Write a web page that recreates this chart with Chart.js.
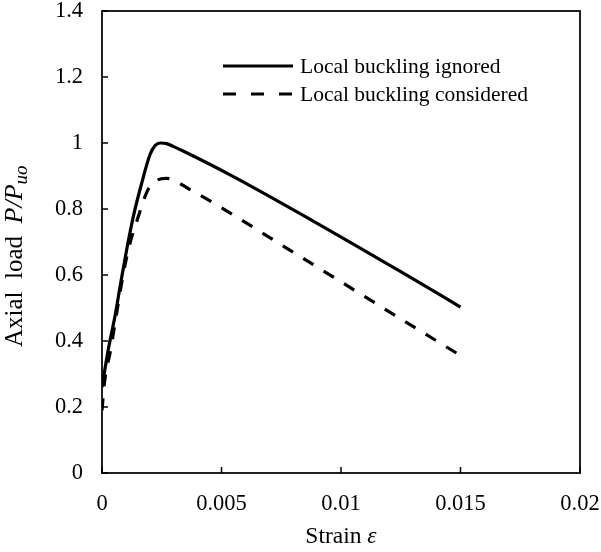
<!DOCTYPE html>
<html>
<head>
<meta charset="utf-8">
<script src="https://cdn.jsdelivr.net/npm/chart.js@4/dist/chart.umd.min.js"></script>
<style>
  html, body { margin: 0; padding: 0; background: #fff; }
  #wrap { width: 601px; height: 552px; }
</style>
</head>
<body>
<div id="wrap"><canvas id="c" width="601" height="552"></canvas></div>
<script>
// ---- data ----
const seriesLabels = ['Local buckling ignored', 'Local buckling considered'];
const ignoredStrain = [0, 0.00026, 0.00054, 0.00078, 0.00103, 0.00131, 0.00166, 0.00201, 0.00222, 0.00245, 0.0027, 0.003, 0.0035, 0.0054, 0.0088, 0.0125, 0.015];
const ignoredLoad   = [0.26, 0.373, 0.474, 0.575, 0.676, 0.777, 0.878, 0.965, 0.992, 1.0, 0.998, 0.989, 0.972, 0.902, 0.765, 0.61, 0.503];
const consideredStrain = [0, 0.0001, 0.00036, 0.00059, 0.00082, 0.0011, 0.00152, 0.0019, 0.00225, 0.0027, 0.0037, 0.0082, 0.0127, 0.015];
const consideredLoad   = [0.19, 0.272, 0.373, 0.474, 0.575, 0.676, 0.777, 0.855, 0.885, 0.893, 0.858, 0.66, 0.458, 0.356];
const xTicks = [0, 0.005, 0.01, 0.015, 0.02];
const yTicks = [0, 0.2, 0.4, 0.6, 0.8, 1, 1.2, 1.4];

const toPts = (xs, ys) => xs.map((x, i) => ({ x: x, y: ys[i] }));

const FONT = '"Liberation Serif", "Times New Roman", serif';

const framePlugin = {
  id: 'frame',
  afterDraw(chart) {
    const { ctx, chartArea: a, scales } = chart;
    ctx.save();
    ctx.strokeStyle = '#000';
    ctx.lineWidth = 1.75;
    ctx.strokeRect(a.left, a.top, a.right - a.left, a.bottom - a.top);
    ctx.lineWidth = 1.5;
    const tl = 6;
    ctx.beginPath();
    xTicks.forEach(v => {
      const px = scales.x.getPixelForValue(v);
      ctx.moveTo(px, a.bottom);
      ctx.lineTo(px, a.bottom - tl);
    });
    yTicks.forEach(v => {
      const py = scales.y.getPixelForValue(v);
      ctx.moveTo(a.left, py);
      ctx.lineTo(a.left + tl, py);
    });
    ctx.stroke();

    // legend
    const lx0 = 223, lx1 = 293, tx = 300;
    const rows = [66, 94];
    chart.data.datasets.forEach((ds, i) => {
      const y = rows[i];
      ctx.beginPath();
      ctx.lineWidth = 3.2;
      ctx.setLineDash(i === 0 ? [] : [13, 15]);
      ctx.moveTo(lx0, y);
      ctx.lineTo(lx1, y);
      ctx.stroke();
      ctx.setLineDash([]);
      ctx.fillStyle = '#000';
      ctx.font = '21.5px ' + FONT;
      ctx.textAlign = 'left';
      ctx.textBaseline = 'middle';
      ctx.fillText(ds.label, tx, y + 1);
    });

    // x title: Strain ε
    ctx.font = '23.5px ' + FONT;
    const p1 = 'Strain ';
    const w1 = ctx.measureText(p1).width;
    ctx.font = 'italic 23.5px ' + FONT;
    const p2 = 'ε';
    const w2 = ctx.measureText(p2).width;
    let sx = (a.left + a.right) / 2 - (w1 + w2) / 2;
    ctx.textAlign = 'left';
    ctx.textBaseline = 'middle';
    ctx.font = '23.5px ' + FONT;
    ctx.fillText(p1, sx, 537);
    ctx.font = 'italic 23.5px ' + FONT;
    ctx.fillText(p2, sx + w1, 537);

    // y title: Axial load P/P_uo
    const parts = [
      { t: 'Axial  load  ', f: '25px ' + FONT, dy: 0 },
      { t: 'P/P', f: 'italic 26px ' + FONT, dy: 0 },
      { t: 'uo', f: 'italic 19px ' + FONT, dy: 7 }
    ];
    parts.forEach(p => { ctx.font = p.f; p.w = ctx.measureText(p.t).width; });
    ctx.translate(15, 347);
    ctx.rotate(-Math.PI / 2);
    let cx = 0;
    parts.forEach(p => {
      ctx.font = p.f;
      ctx.fillText(p.t, cx, p.dy);
      cx += p.w;
    });
    ctx.restore();
  }
};

new Chart(document.getElementById('c'), {
  type: 'line',
  data: {
    datasets: [
      {
        label: seriesLabels[0],
        data: toPts(ignoredStrain, ignoredLoad),
        borderColor: '#000',
        borderWidth: 3.2,
        pointRadius: 0,
        cubicInterpolationMode: 'monotone',
        fill: false
      },
      {
        label: seriesLabels[1],
        data: toPts(consideredStrain, consideredLoad),
        borderColor: '#000',
        borderWidth: 3.2,
        borderDash: [12, 12],
        pointRadius: 0,
        cubicInterpolationMode: 'monotone',
        fill: false
      }
    ]
  },
  options: {
    responsive: false,
    animation: false,
    layout: { padding: { left: 0, top: 11, right: 21, bottom: 0 } },
    plugins: { legend: { display: false }, tooltip: { enabled: false } },
    scales: {
      x: {
        type: 'linear',
        min: 0, max: 0.02,
        grid: { display: false, drawTicks: false },
        border: { display: false },
        afterBuildTicks: s => { s.ticks = xTicks.map(v => ({ value: v })); },
        afterFit: s => { s.height = 79; s.paddingLeft = 0; s.paddingRight = 0; },
        ticks: {
          color: '#000',
          padding: 18,
          maxRotation: 0,
          autoSkip: false,
          font: { family: FONT, size: 22.5 },
          callback: v => String(Number(v.toFixed(3)))
        }
      },
      y: {
        type: 'linear',
        min: 0, max: 1.4,
        grid: { display: false, drawTicks: false },
        border: { display: false },
        afterBuildTicks: s => { s.ticks = yTicks.map(v => ({ value: v })); },
        afterFit: s => { s.width = 102; s.paddingTop = 0; s.paddingBottom = 0; },
        ticks: {
          color: '#000',
          padding: 19,
          autoSkip: false,
          font: { family: FONT, size: 22.5 },
          callback: v => String(Number(v.toFixed(2)))
        }
      }
    }
  },
  plugins: [framePlugin]
});
</script>
</body>
</html>
